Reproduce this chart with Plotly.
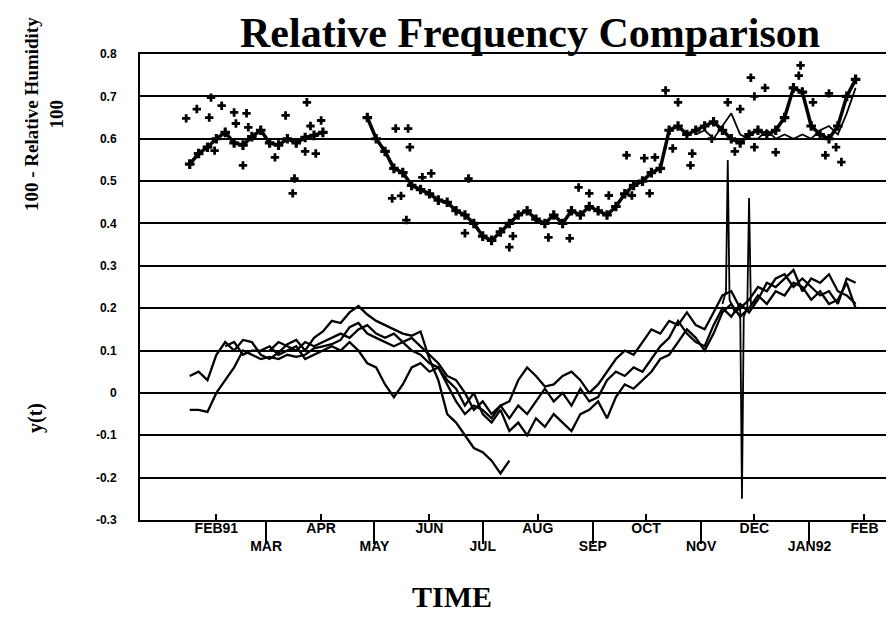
import plotly.graph_objects as go
import pandas as pd

# ---------------- data ----------------
# 5-day sampling grid, 1991-01-17 .. 1992-01-27 (76 samples)
grid = pd.date_range("1991-01-17", periods=76, freq="5D")

# lower panel: y(t) series
y_a = [0.04, 0.05, 0.03, 0.09, 0.12, 0.10, 0.125, 0.12, 0.09, 0.08, 0.095, 0.115, 0.125, 0.10, 0.13,
       0.145, 0.17, 0.165, 0.19, 0.205, 0.185, 0.17, 0.16, 0.15, 0.14, 0.135, 0.145, 0.08, 0.03, -0.05,
       -0.07, -0.10, -0.13, -0.14, -0.16, -0.19, -0.16] + [None] * 39

y_b = [-0.04, -0.04, -0.045, 0.0, 0.03, 0.06, 0.10, 0.09, 0.08, 0.085, 0.08, 0.09, 0.085, 0.09, 0.105,
       0.11, 0.115, 0.125, 0.155, 0.165,
       0.14, 0.13, 0.12, 0.11, 0.12, 0.10, 0.09, 0.07, 0.06, 0.03, 0.01, -0.03, 0.0,
       -0.05, -0.07, -0.04, -0.09, -0.07, -0.10, -0.06, -0.08, -0.05, -0.07, -0.09, -0.05, -0.04, -0.02,
       -0.06, -0.01, 0.02, 0.01, 0.03,
       0.05, 0.08, 0.09, 0.12, 0.15, 0.13, 0.10, 0.14, 0.19, 0.21, 0.18, 0.20,
       0.23, 0.21, 0.24, 0.23, 0.26, 0.25, 0.22, 0.24, 0.21, 0.22, 0.26, 0.20]

y_c = [None] * 4 + [
       0.11, 0.12, 0.09, 0.10, 0.10, 0.11, 0.09, 0.10, 0.11, 0.08, 0.09, 0.10, 0.11, 0.10, 0.12, 0.10, 0.07,
       0.06, 0.02, -0.01, 0.02, 0.06, 0.07, 0.05, 0.06, 0.02, -0.02, -0.05, -0.03, -0.04, -0.06, -0.03,
       -0.02, 0.03, 0.06,
       0.04, 0.015, 0.02, 0.04, 0.05, 0.03, 0.0, 0.02, 0.05, 0.08, 0.10, 0.09, 0.12, 0.15, 0.14, 0.17,
       0.16, 0.19, 0.16,
       0.15, 0.19, 0.23, 0.24, 0.20, 0.22, 0.25, 0.24, 0.27, 0.28, 0.25, 0.27, 0.25, 0.23, 0.24, 0.21,
       0.27, 0.26]

y_d = [None] * 9 + [
       0.10, 0.12, 0.11, 0.10, 0.12, 0.11, 0.12, 0.13, 0.14, 0.13, 0.15, 0.16, 0.14, 0.13, 0.14, 0.12,
       0.13, 0.11,
       0.09, 0.07, 0.04, 0.03, 0.0, -0.04, -0.02, -0.05, -0.03, -0.06, -0.03, -0.05, -0.02, 0.01, -0.02,
       0.0, -0.03, 0.01, -0.02,
       -0.01, 0.03, 0.05, 0.04, 0.06, 0.05, 0.08, 0.11, 0.13, 0.17, 0.14, 0.12, 0.11, 0.16, 0.20, 0.18,
       0.21, 0.19,
       0.22, 0.26, 0.25, 0.27, 0.29, 0.24, 0.27, 0.26, 0.28, 0.24, 0.23, 0.21]

spike_dates = ["1991-11-13", "1991-11-15", "1991-11-16", "1991-11-17", "1991-11-20", "1991-11-23",
               "1991-11-24", "1991-11-25", "1991-11-27", "1991-11-28", "1991-11-29", "1991-12-03"]
spike_vals = [0.21, 0.24, 0.55, 0.22, 0.19, 0.20, -0.25, 0.18, 0.20, 0.46, 0.21, 0.22]

# upper panel: (100 - RH)/100
rh_band = [0.54, 0.565, 0.58, 0.60, 0.615, 0.59, 0.585, 0.605, 0.62, 0.59, 0.585, 0.60, 0.59, 0.603,
           0.608, 0.615,
           None, None, None, None,
           0.65, 0.60, 0.57, 0.53, 0.52, 0.49, 0.48, 0.47, 0.455, 0.45, 0.43, 0.42, 0.40, 0.37, 0.36,
           0.38, 0.40, 0.42, 0.43,
           0.41, 0.40, 0.42, 0.40, 0.43, 0.42, 0.44, 0.43, 0.42, 0.44, 0.47, 0.49, 0.50, 0.52, 0.53,
           0.62, 0.63, 0.61, 0.62,
           0.63, 0.64, 0.62, 0.60, 0.59, 0.61, 0.62, 0.61, 0.62, 0.65, 0.72, 0.71, 0.63, 0.61, 0.60,
           0.63, 0.70, 0.74]

rh_line2 = [None] * 57 + [0.61, 0.62, 0.60, 0.63, 0.66, 0.61, 0.60, 0.60, 0.62, 0.60, 0.61, 0.60,
                          0.61, 0.60, 0.62, 0.63, 0.61, 0.66, 0.72]

pts_dates = ["1991-01-15", "1991-01-21", "1991-01-29", "1991-02-04", "1991-01-28", "1991-02-11",
             "1991-02-18", "1991-02-12", "1991-02-19", "1991-02-16", "1991-01-31", "1991-03-06",
             "1991-03-12", "1991-03-17", "1991-03-16", "1991-03-24", "1991-04-01", "1991-03-26",
             "1991-03-29", "1991-03-23",
             "1991-05-13", "1991-05-20", "1991-05-21", "1991-05-11", "1991-05-16", "1991-05-19",
             "1991-05-28", "1991-06-02", "1991-06-23", "1991-06-21", "1991-07-16", "1991-07-18",
             "1991-08-07", "1991-08-19", "1991-08-24", "1991-08-30", "1991-09-10", "1991-09-20",
             "1991-09-23", "1991-09-30", "1991-10-03", "1991-10-06", "1991-10-12", "1991-10-19",
             "1991-10-16", "1991-10-26", "1991-10-27", "1991-11-16", "1991-11-23", "1991-11-29",
             "1991-12-01", "1991-12-07", "1991-12-13", "1991-12-26", "1991-12-27", "1992-01-03",
             "1992-01-10", "1992-01-12", "1992-01-16", "1992-01-19", "1991-12-01", "1991-11-20",
             "1991-11-07"]
pts_vals = [0.648, 0.67, 0.697, 0.678, 0.65, 0.662, 0.66, 0.636, 0.627, 0.537, 0.572, 0.556, 0.655,
            0.506, 0.471, 0.686, 0.643, 0.63, 0.565, 0.57,
            0.624, 0.624, 0.58, 0.459, 0.465, 0.408, 0.509, 0.518, 0.506, 0.377, 0.344, 0.37, 0.367,
            0.365, 0.485, 0.471, 0.466, 0.561, 0.466, 0.554, 0.471, 0.556, 0.714, 0.686, 0.577, 0.537,
            0.565, 0.686, 0.67, 0.744, 0.70, 0.72, 0.568, 0.749, 0.773, 0.686, 0.561, 0.707, 0.58,
            0.545, 0.58, 0.57, 0.60]

ytick_vals = [-0.3, -0.2, -0.1, 0, 0.1, 0.2, 0.3, 0.4, 0.5, 0.6, 0.7, 0.8]
ytick_text = ["-0.3", "-0.2", "-0.1", "0", "0.1", "0.2", "0.3", "0.4", "0.5", "0.6", "0.7", "0.8"]
xtick_upper_vals = ["1991-02-01", "1991-04-01", "1991-06-01", "1991-08-01", "1991-10-01",
                    "1991-12-01", "1992-02-01"]
xtick_upper_text = ["FEB91", "APR", "JUN", "AUG", "OCT", "DEC", "FEB"]
xtick_lower_vals = ["1991-03-01", "1991-05-01", "1991-07-01", "1991-09-01", "1991-11-01",
                    "1992-01-01"]
xtick_lower_text = ["MAR", "MAY", "JUL", "SEP", "NOV", "JAN92"]
x_range = ["1990-12-20", "1992-02-21"]

# ---------------- figure ----------------
fig = go.Figure()
blk = "black"

for ys in (y_a, y_b, y_c, y_d):
    fig.add_trace(go.Scatter(x=grid, y=ys, mode="lines", line=dict(color=blk, width=2.3),
                             connectgaps=False, showlegend=False, hoverinfo="skip"))
fig.add_trace(go.Scatter(x=pd.to_datetime(spike_dates), y=spike_vals, mode="lines",
                         line=dict(color=blk, width=1.8), showlegend=False, hoverinfo="skip"))

fig.add_trace(go.Scatter(x=grid, y=rh_band, mode="lines+markers",
                         line=dict(color=blk, width=3.5),
                         marker=dict(symbol="cross", size=8, color=blk),
                         connectgaps=False, showlegend=False, hoverinfo="skip"))
fig.add_trace(go.Scatter(x=grid, y=rh_line2, mode="lines", line=dict(color=blk, width=1.8),
                         showlegend=False, hoverinfo="skip"))
fig.add_trace(go.Scatter(x=pd.to_datetime(pts_dates), y=pts_vals, mode="markers",
                         marker=dict(symbol="cross", size=7, color=blk),
                         showlegend=False, hoverinfo="skip"))
# carrier for second x axis
fig.add_trace(go.Scatter(x=pd.to_datetime(x_range), y=[None, None], xaxis="x2", mode="lines",
                         showlegend=False, hoverinfo="skip"))

tickfont = dict(family="Liberation Sans", size=14, color=blk, weight="bold")

PL, PT, PW, PH = 132, 46, 760, 466


def px(x):
    return (x - PL) / PW


def py(y):
    return (PT + PH - y) / PH


fig.update_layout(
    width=894, height=622,
    margin=dict(l=PL, r=2, t=PT, b=110),
    paper_bgcolor="white", plot_bgcolor="white",
    xaxis=dict(type="date", range=x_range, tickmode="array", tickvals=xtick_upper_vals,
               ticktext=xtick_upper_text, ticks="inside", ticklen=6, tickwidth=1.5, tickcolor=blk,
               showgrid=False, zeroline=False, showline=True, linecolor=blk, linewidth=2,
               mirror=True, tickfont=tickfont, ticklabelstandoff=-6),
    xaxis2=dict(type="date", range=x_range, overlaying="x", anchor="y", side="bottom",
                tickmode="array", tickvals=xtick_lower_vals, ticktext=xtick_lower_text,
                ticks="outside", ticklen=23, tickwidth=1.5, tickcolor=blk, showgrid=False,
                zeroline=False, showline=False, tickfont=tickfont, ticklabelstandoff=-10),
    yaxis=dict(range=[-0.3, 0.8], tickmode="array", tickvals=ytick_vals, ticktext=ytick_text,
               showgrid=True, gridcolor=blk, gridwidth=2, zeroline=False, showline=True,
               linecolor=blk, linewidth=2, ticks="", ticklabelstandoff=19,
               tickfont=dict(family="Liberation Sans", size=12, color=blk, weight="bold")),
    annotations=[
        dict(text="<b>Relative Frequency Comparison</b>", xref="paper", yref="paper",
             x=px(522), y=py(0), xanchor="center", yanchor="top", showarrow=False,
             font=dict(family="Liberation Serif", size=42, color=blk)),
        dict(text="<b>100 - Relative Humidity<br>100</b>", xref="paper", yref="paper",
             x=px(36), y=py(106), xanchor="center", yanchor="middle",
             textangle=-90, showarrow=False,
             font=dict(family="Liberation Serif", size=19, color=blk)),
        dict(text="<b>y(t)</b>", xref="paper", yref="paper",
             x=px(27), y=py(410), xanchor="center", yanchor="middle",
             textangle=-90, showarrow=False,
             font=dict(family="Liberation Serif", size=20, color=blk)),
        dict(text="<b>TIME</b>", xref="paper", yref="paper",
             x=px(444), y=py(588), xanchor="center", yanchor="middle",
             showarrow=False, font=dict(family="Liberation Serif", size=30, color=blk)),
    ],
)

fig.write_html("out.html")
